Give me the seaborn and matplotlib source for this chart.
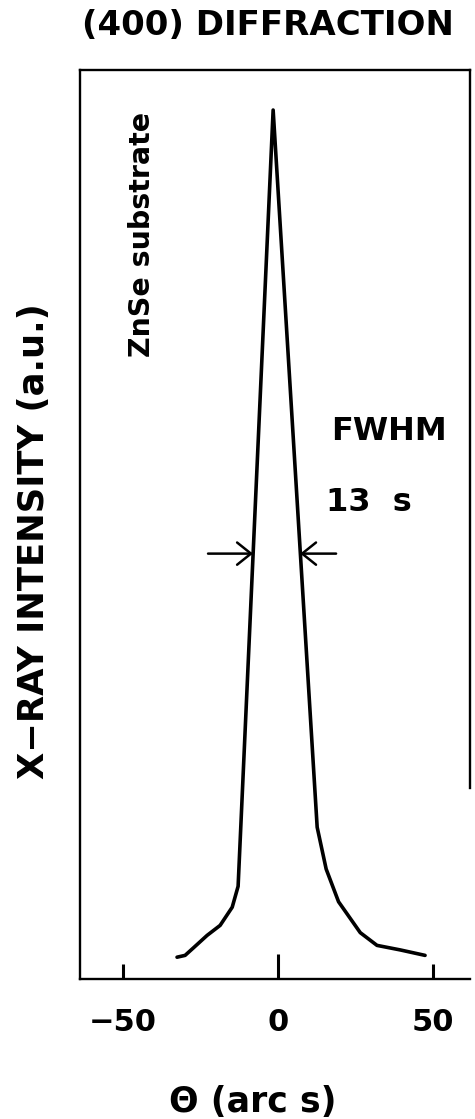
import numpy as np
import pandas as pd
import matplotlib
matplotlib.use("Agg")
import matplotlib.pyplot as plt
import seaborn as sns

# Style: plain white, bold sans text like the scanned figure
sns.set_theme(style="white")
plt.rcParams['font.family'] = ['DejaVu Sans']
plt.rcParams['font.weight'] = 'bold'
plt.rcParams['text.color'] = 'black'

# ==========================================
# DATA
# ==========================================
theta = [-32.6, -30.0, -27.4, -22.9, -18.7, -14.8, -12.9, -1.6,
         12.6, 15.5, 19.5, 26.5, 31.9, 39.4, 47.4]
intensity = [2.4, 2.6, 3.4, 4.8, 5.9, 7.9, 10.2, 95.6,
             16.7, 12.1, 8.5, 5.1, 3.7, 3.2, 2.6]
x_ticks = [-50, 0, 50]

half_max = 46.8          # level of the FWHM arrows
fwhm_left = -8.1         # left flank at half maximum
fwhm_right = 7.1         # right flank at half maximum
arrow_tail_left = -22.6
arrow_tail_right = 18.7

df = pd.DataFrame({'theta': theta, 'intensity': intensity})

# ==========================================
# FIGURE
# ==========================================
fig = plt.figure(figsize=(4.75, 11.19), dpi=100)
ax = fig.add_axes([0.1684, 0.1251, 0.8211, 0.8123])

sns.lineplot(data=df, x='theta', y='intensity', ax=ax, color='black',
             linewidth=2.6, estimator=None, sort=False)

ax.set_xlim(-63.9, 61.9)
ax.set_ylim(0, 100)
ax.set_xlabel('')
ax.set_ylabel('')
ax.set_yticks([])
ax.set_xticks(x_ticks)
ax.set_xticklabels([f'{t}'.replace('-', '\u2212') for t in x_ticks])
ax.tick_params(axis='x', direction='in', length=11, width=2.2, pad=21,
               labelsize=22, colors='black', bottom=True)
for lbl in ax.get_xticklabels():
    lbl.set_fontweight('bold')
# the centre tick is drawn longer in the original
ax.xaxis.get_major_ticks()[1].tick1line.set_markersize(18)

for side in ['left', 'bottom', 'top', 'right']:
    ax.spines[side].set_color('black')
    ax.spines[side].set_linewidth(1.7)
ax.spines['right'].set_bounds(21, 100)

# FWHM arrows
arrow_kw = dict(arrowstyle='->,head_length=0.5,head_width=0.4', color='black',
                lw=1.8, shrinkA=0, shrinkB=0, mutation_scale=20)
ax.annotate('', xy=(fwhm_left, half_max), xytext=(arrow_tail_left, half_max),
            arrowprops=arrow_kw)
ax.annotate('', xy=(fwhm_right, half_max), xytext=(arrow_tail_right, half_max),
            arrowprops=arrow_kw)

# annotations
ax.text(-43.9, 81.9, 'ZnSe substrate', rotation=90, ha='center', va='center',
        fontsize=20.5, fontweight='bold', color='black')
ax.text(17.1, 59.3, 'FWHM', ha='left', va='baseline', fontsize=23,
        fontweight='bold', color='black')
ax.text(15.6, 51.5, '13  s', ha='left', va='baseline', fontsize=23,
        fontweight='bold', color='black')

# titles and axis labels placed as in the scan
fig.text(0.564, 0.9687, '(400) DIFFRACTION', ha='center', va='baseline',
         fontsize=24.5, fontweight='bold', color='black')
fig.text(0.0716, 0.5165, 'X\u2212RAY INTENSITY (a.u.)', rotation=90,
         ha='center', va='center', fontsize=25.5, fontweight='bold',
         color='black')
fig.text(0.533, 0.006, '\u0398 (arc s)', ha='center', va='baseline',
         fontsize=25, fontweight='bold', color='black')

plt.savefig('out.png', dpi=100)
plt.close()
